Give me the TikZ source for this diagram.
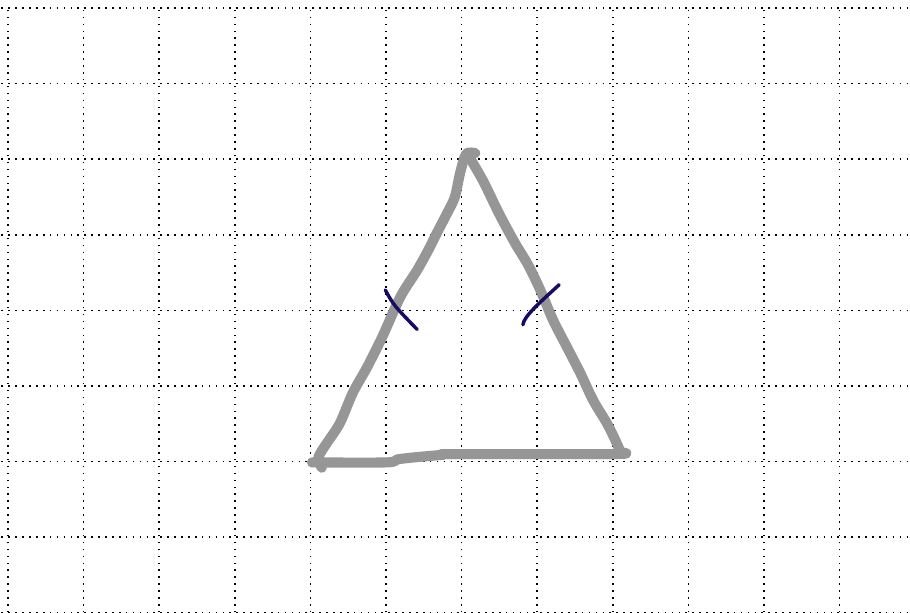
\documentclass[tikz,border=0pt]{standalone}
\usetikzlibrary{calc}
\definecolor{pencil}{RGB}{150, 150, 150}
\definecolor{tickink}{RGB}{25, 10, 100}

\begin{document}
\begin{tikzpicture}[
	% Styles for the sketch
	gridline/.style={black, dotted, line width=0.6pt},
	sideline/.style={pencil, line width=3.8pt, line cap=round, line join=round},
	tickmark/.style={tickink, line width=1.3pt, line cap=round}
	]
	
	% ==========================================
	% 1. PAGE AND DOTTED GRID
	% ==========================================
	\useasboundingbox (-0.106, -0.99) rectangle (11.93, 7.106);
	\fill[white] (-0.106, -0.99) rectangle (11.93, 7.106);
	\begin{scope}
		\clip (-0.106, -0.99) rectangle (11.93, 7.106);
		\draw[gridline] (-1, -2) grid (13, 7);
	\end{scope}
	
	% ==========================================
	% 2. HAND-DRAWN TRIANGLE
	% ==========================================
	% Left side, from the apex down to the bottom corner
	\draw[sideline] plot[smooth, tension=0.5] coordinates {
		(6.18, 5.08) (6.06, 5.07) (5.98, 4.82) (5.91, 4.50) (5.81, 4.29)
		(5.67, 4.02) (5.56, 3.80) (5.41, 3.53) (5.19, 3.18) (4.95, 2.65)
		(4.75, 2.25) (4.56, 1.91) (4.39, 1.51) (4.22, 1.25) (4.13, 1.11)
		(4.10, 1.02) (4.15, 0.92)};
	% Bottom side
	\draw[sideline] plot[smooth, tension=0.5] coordinates {
		(4.02, 0.99) (5.01, 0.99) (5.15, 1.03) (5.41, 1.06) (5.75, 1.09)
		(5.89, 1.10) (8.00, 1.10) (8.12, 1.12)};
	% Right side, from the bottom corner up to the apex
	\draw[sideline] plot[smooth, tension=0.5] coordinates {
		(8.10, 1.13) (8.03, 1.29) (7.92, 1.51) (7.74, 1.81) (7.57, 2.17)
		(7.39, 2.52) (7.21, 2.87) (7.04, 3.27) (6.88, 3.60) (6.70, 3.90)
		(6.49, 4.29) (6.28, 4.72) (6.07, 5.08)};
	
	% ==========================================
	% 3. EQUAL-SIDE TICK MARKS
	% ==========================================
	\draw[tickmark] (4.99, 3.27) .. controls (5.10, 3.07) .. (5.41, 2.75);
	\draw[tickmark] (7.29, 3.34) .. controls (7.04, 3.11) and (6.82, 2.92) .. (6.81, 2.81);
	
\end{tikzpicture}
\end{document}
